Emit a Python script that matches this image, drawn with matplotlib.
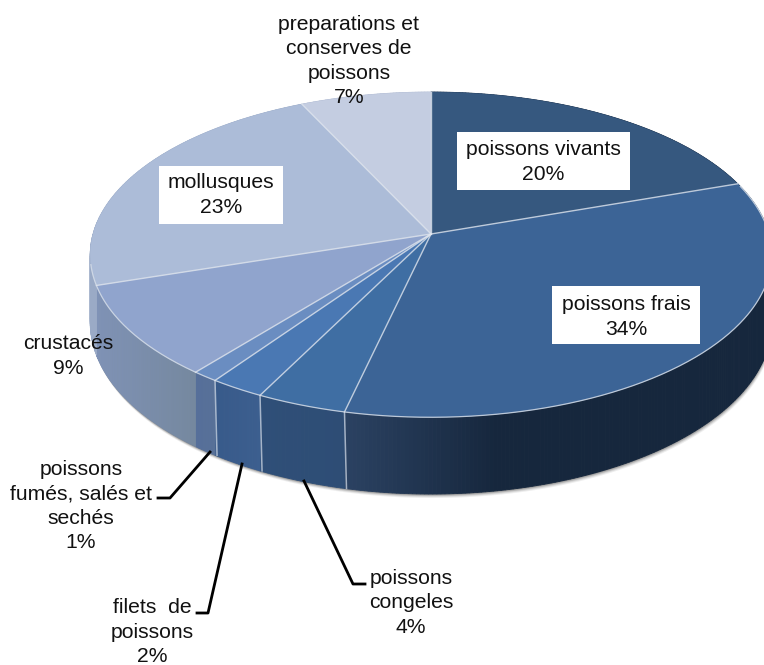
import numpy as np
import matplotlib
matplotlib.use('Agg')
import matplotlib.pyplot as plt
from matplotlib.patches import Rectangle
from matplotlib.colors import to_rgb

plt.rcParams['font.family'] = ['Liberation Sans', 'DejaVu Sans']

categories = ['poissons vivants', 'poissons frais', 'poissons congeles', 'filets de poissons',
              'poissons fumés, salés et sechés', 'crustacés', 'mollusques',
              'preparations et conserves de poissons']
values = [19.7, 33.9, 3.8, 2.3, 1.1, 9.2, 23.0, 7.0]
top_colors = ['#36587f', '#3c6496', '#3f6ea3', '#4a78b3', '#6a8dc1', '#90a4cd', '#acbcd8', '#c4cde1']
side_left = ['#1b2f4a', '#2b4262', '#2f4f78', '#385a8a', '#566f9a', '#7f92b6', '#9aaac6', '#aab6cf']
side_right = ['#16273d', '#16273d', '#2e4d75', '#3c5f8f', '#587198', '#75889f', '#9aaac6', '#aab6cf']

# perspective of the disc, in pixels
cx, cy = 431, 234
a, b, k = 338, 160, 0.127
depth = 67


def project(frac, z=0.0):
    t = np.asarray(frac) * 2 * np.pi
    u, v = np.sin(t), np.cos(t)
    den = 1 + k * v
    return cx + a * u / den, cy + (-b * v + depth * z) / den


def mix(c1, c2, w):
    c1, c2 = np.array(to_rgb(c1)), np.array(to_rgb(c2))
    return tuple(c1 + (c2 - c1) * w)


fig = plt.figure(figsize=(7.64, 6.65), dpi=100)
ax = fig.add_axes([0, 0, 1, 1])
ax.set_xlim(0, 764)
ax.set_ylim(665, 0)
ax.axis('off')

edges = np.cumsum([0] + values) / 100.0
all_f = np.linspace(0, 1, 721)

# soft shadow under the wall
for off, alpha in [(4, 0.10), (3, 0.15), (2, 0.25), (1, 0.35)]:
    sx, sy = project(all_f, 1.0)
    ax.fill(sx + off * 0.4, sy + off, color='#555555', alpha=alpha, lw=0, zorder=1)

# side wall, cut in thin strips for the gradient
for i in range(len(values)):
    n = max(int(values[i] * 6), 4)
    f = np.linspace(edges[i], edges[i + 1], n + 1)
    xs = project(f)[0]
    span = min(xs.max() - xs.min(), 150)
    for j in range(n):
        x0, y0 = project(f[j:j + 2], 0.0)
        x1, y1 = project(f[j:j + 2], 1.0)
        col = mix(side_left[i], side_right[i], np.clip((x0.mean() - xs.min()) / span, 0, 1))
        ax.fill(np.r_[x0, x1[::-1]], np.r_[y0, y1[::-1]], color=col, ec=col, lw=0.6, zorder=2)

# separators on the visible wall
for e in edges[1:5]:
    x0, y0 = project(e, 0.0)
    x1, y1 = project(e, 1.0)
    ax.plot([x0, x1 + 2], [y0, y1], color='#c3cedd', lw=1.1, alpha=0.8, zorder=3)

# top face
for i in range(len(values)):
    f = np.linspace(edges[i], edges[i + 1], 120)
    x, y = project(f)
    ax.fill(np.r_[cx, x], np.r_[cy, y], color=top_colors[i], ec=top_colors[i], lw=0.3, zorder=4)

# rim and radial separators
rx, ry = project(np.linspace(0.2, 0.72, 300))
ax.plot(rx, ry, color='#d5dde8', lw=0.9, alpha=0.85, zorder=5)
for e in edges[:-1]:
    x, y = project(e)
    ax.plot([cx, x], [cy, y], color='#dfe5ee', lw=1.0, alpha=0.8, zorder=5)

# leader lines
ax.plot([210, 170, 158], [452, 498, 498], color='black', lw=2.0, zorder=6)
ax.plot([242, 208, 197], [464, 613, 613], color='black', lw=2.0, zorder=6)
ax.plot([304, 353, 365], [481, 584, 584], color='black', lw=2.0, zorder=6)

# white label boxes
ax.add_patch(Rectangle((457, 132), 173, 58, fc='white', ec='none', zorder=7))
ax.add_patch(Rectangle((552, 286), 148, 58, fc='white', ec='none', zorder=7))
ax.add_patch(Rectangle((159, 166), 124, 58, fc='white', ec='none', zorder=7))

fs = 15.2
label_style = dict(fontsize=fs, ha='center', va='center', color='#111111', zorder=8, linespacing=1.37)
ax.text(543, 162, 'poissons vivants\n20%', **label_style)
ax.text(626, 317, 'poissons frais\n34%', **label_style)
ax.text(221, 195, 'mollusques\n23%', **label_style)
ax.text(349, 61, 'preparations et\nconserves de\npoissons\n7%', **label_style)
ax.text(68, 356, 'crustacés\n9%', **label_style)
ax.text(81, 506, 'poissons\nfumés, salés et\nsechés\n1%', **label_style)
ax.text(152, 632, 'filets  de\npoissons\n2%', **label_style)
ax.text(411, 603, 'poissons\ncongeles\n4%', **label_style)

plt.savefig('out.png', dpi=100)
